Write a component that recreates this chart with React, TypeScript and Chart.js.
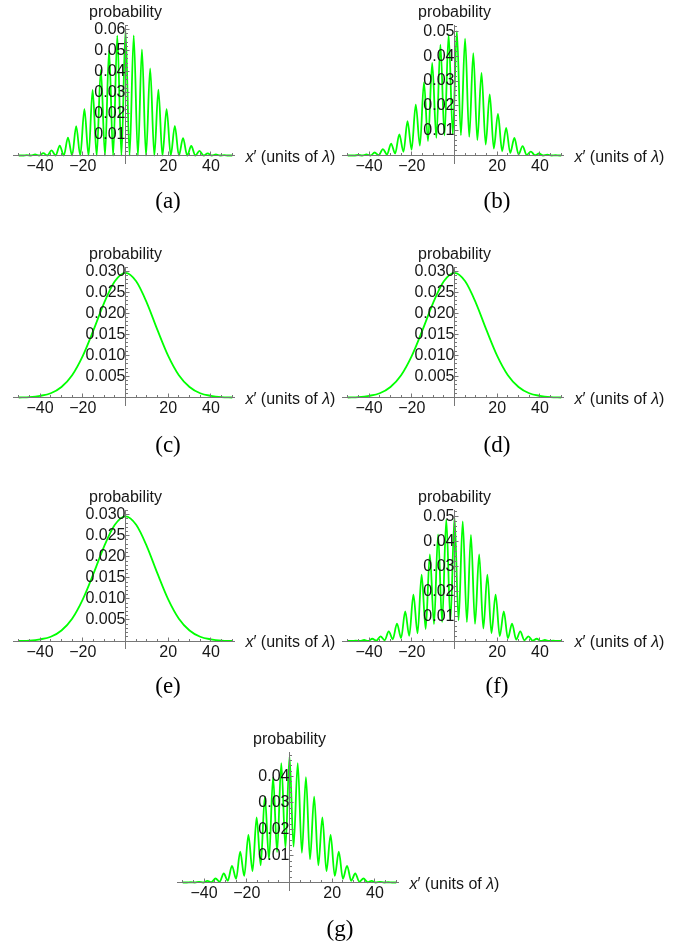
import React, { useEffect, useRef } from 'react';
import { Chart, registerables } from 'chart.js';

Chart.register(...registerables);

// Extrema of the fringe pattern (x′ in units of λ) for panels a, f and g
const fringeX = [
  -50, -48.1, -46.2, -44.3, -42.35, -40.4, -38.5, -36.6, -34.65, -32.7, -30.8, -28.9, -26.95,
  -25.0, -23.1, -21.2, -19.25, -17.3, -15.4, -13.5, -11.55, -9.6, -7.7, -5.8, -3.85, -1.9, 0,
  1.9, 3.85, 5.8, 7.7, 9.6, 11.55, 13.5, 15.4, 17.3, 19.25, 21.2, 23.1, 25.0, 26.95, 28.9, 30.8,
  32.7, 34.65, 36.6, 38.5, 40.4, 42.35, 44.3, 46.2, 48.1, 50,
];

// Panel b has its fringes shifted to the right
const fringeXB = [
  -50, -47.0, -45.1, -43.2, -41.25, -39.3, -37.4, -35.5, -33.55, -31.6, -29.7, -27.8, -25.85,
  -23.9, -22.0, -20.1, -18.15, -16.2, -14.3, -12.4, -10.45, -8.5, -6.6, -4.7, -2.75, -0.8, 1.1,
  3.0, 4.95, 6.9, 8.8, 10.7, 12.65, 14.6, 16.5, 18.4, 20.35, 22.3, 24.2, 26.1, 28.05, 30.0, 31.9,
  33.8, 35.75, 37.7, 39.6, 41.5, 43.45, 45.4, 47.3, 49.2, 50,
];

const probA = [
  0, 0, 0.0002, 0, 0.0005, 0, 0.0011, 0, 0.0024, 0, 0.0047, 0, 0.0085, 0, 0.0140, 0, 0.0220, 0,
  0.0312, 0, 0.0409, 0, 0.0500, 0, 0.0570, 0, 0.0597, 0, 0.0572, 0, 0.0505, 0, 0.0414, 0, 0.0313, 0,
  0.0220, 0, 0.0141, 0, 0.0083, 0, 0.0046, 0, 0.0022, 0, 0.0010, 0, 0.0005, 0, 0.0002, 0, 0,
];

const probB = [
  0, 0, 0.0002, 0, 0.0004, 0, 0.0012, 0.0001, 0.0026, 0.0004, 0.0048, 0.0008, 0.0085, 0.0015,
  0.0138, 0.0024, 0.0205, 0.0040, 0.0295, 0.0058, 0.0373, 0.0071, 0.0447, 0.0081, 0.0487, 0.0085,
  0.0501, 0.0081, 0.0471, 0.0075, 0.0413, 0.0062, 0.0333, 0.0044, 0.0246, 0.0028, 0.0168, 0.0017,
  0.0111, 0.0010, 0.0071, 0.0005, 0.0038, 0.0002, 0.0016, 0.0001, 0.0008, 0, 0.0003, 0, 0.0001, 0, 0,
];

const probF = [
  0, 0, 0.0001, 0, 0.0004, 0, 0.0009, 0.0001, 0.0019, 0.0003, 0.0039, 0.0007, 0.0070, 0.0012,
  0.0119, 0.0021, 0.0187, 0.0031, 0.0267, 0.0048, 0.0349, 0.0068, 0.0430, 0.0076, 0.0490, 0.0083,
  0.0499, 0.0083, 0.0482, 0.0076, 0.0428, 0.0069, 0.0349, 0.0050, 0.0267, 0.0032, 0.0187, 0.0020,
  0.0119, 0.0011, 0.0070, 0.0006, 0.0039, 0.0003, 0.0019, 0.0001, 0.0009, 0, 0.0004, 0, 0.0001, 0, 0,
];

const probG = [
  0, 0, 0.0001, 0, 0.0002, 0, 0.0006, 0.0001, 0.0015, 0.0003, 0.0034, 0.0007, 0.0063, 0.0014,
  0.0116, 0.0025, 0.0179, 0.0043, 0.0245, 0.0065, 0.0324, 0.0088, 0.0397, 0.0115, 0.0450, 0.0130,
  0.0475, 0.0135, 0.0450, 0.0112, 0.0397, 0.0087, 0.0324, 0.0065, 0.0245, 0.0043, 0.0179, 0.0025,
  0.0116, 0.0014, 0.0063, 0.0007, 0.0034, 0.0003, 0.0015, 0.0001, 0.0006, 0, 0.0002, 0, 0.0001, 0, 0,
];

// Smooth (fringe-free) distribution used in panels c, d and e
const smoothX = [-50, -45, -40, -35, -30, -25, -20, -15, -10, -5, 0, 5, 10, 15, 20, 25, 30, 35, 40, 45, 50];
const probSmooth = [
  0, 0.0001, 0.0004, 0.0010, 0.0025, 0.0053, 0.0099, 0.0160, 0.0225, 0.0276, 0.0296,
  0.0276, 0.0225, 0.0160, 0.0099, 0.0053, 0.0025, 0.0010, 0.0004, 0.0001, 0,
];

const xTickStep = 20;
const xMinorStep = 5;
const xTickSpan = [-50, 50];

const AXIS_COLOR = '#777777';
const LABEL_COLOR = '#161616';
const CURVE_COLOR = '#00ff00';
const SANS = "'Liberation Sans', Arial, sans-serif";
const SERIF = "'Liberation Serif', 'Times New Roman', serif";

// Plot geometry (pixels)
const X_MIN = -52.5;
const X_MAX = 51;
const X_PX = 2.135;
const H_ABOVE = 130.5;
const H_BELOW = 7.5;
const CANVAS_W = 250;
const CANVAS_H = 190;

type PanelSpec = {
  caption: string;
  xs: number[];
  ys: number[];
  zeroX: number;
  axisY: number;
  yMax: number;
  yStep: number;
  yDigits: number;
  capX: number;
  capY: number;
};

const panels: PanelSpec[] = [
  { caption: '(a)', xs: fringeX, ys: probA, zeroX: 125.5, axisY: 155.5, yMax: 0.0621, yStep: 0.01, yDigits: 2, capX: 168, capY: 200 },
  { caption: '(b)', xs: fringeXB, ys: probB, zeroX: 454.5, axisY: 155.5, yMax: 0.0526, yStep: 0.01, yDigits: 2, capX: 497, capY: 200 },
  { caption: '(c)', xs: smoothX, ys: probSmooth, zeroX: 125.5, axisY: 397.5, yMax: 0.031, yStep: 0.005, yDigits: 3, capX: 168, capY: 444 },
  { caption: '(d)', xs: smoothX, ys: probSmooth, zeroX: 454.5, axisY: 397.5, yMax: 0.031, yStep: 0.005, yDigits: 3, capX: 497, capY: 444 },
  { caption: '(e)', xs: smoothX, ys: probSmooth, zeroX: 125.5, axisY: 641, yMax: 0.031, yStep: 0.005, yDigits: 3, capX: 168, capY: 685 },
  { caption: '(f)', xs: fringeX, ys: probF, zeroX: 454.5, axisY: 641, yMax: 0.0526, yStep: 0.01, yDigits: 2, capX: 497, capY: 685 },
  { caption: '(g)', xs: fringeX, ys: probG, zeroX: 289.5, axisY: 882.5, yMax: 0.0492, yStep: 0.01, yDigits: 2, capX: 340, capY: 928 },
];

// Small tick marks along both axes (major and minor), drawn from the chart's scales
const axisTicks = {
  id: 'axisTicks',
  afterDraw(chart: any, _args: any, opts: any) {
    const { ctx } = chart;
    const xs = chart.scales.x;
    const ys = chart.scales.y;
    const x0 = Math.floor(xs.getPixelForValue(0)) + 0.5;
    const y0 = Math.floor(ys.getPixelForValue(0)) + 0.5;
    ctx.save();
    ctx.strokeStyle = AXIS_COLOR;
    ctx.lineWidth = 1;
    ctx.beginPath();
    for (let v = xTickSpan[0]; v <= xTickSpan[1]; v += xMinorStep) {
      if (v === 0) continue;
      const px = Math.floor(xs.getPixelForValue(v)) + 0.5;
      const len = v % xTickStep === 0 ? 4 : 2.5;
      ctx.moveTo(px, y0);
      ctx.lineTo(px, y0 - len);
    }
    const minor = opts.yStep / 5;
    for (let i = 1; i * minor <= opts.yMax + 1e-9; i++) {
      const py = Math.floor(ys.getPixelForValue(i * minor)) + 0.5;
      const len = i % 5 === 0 ? 4 : 2.5;
      ctx.moveTo(x0, py);
      ctx.lineTo(x0 + len, py);
    }
    ctx.stroke();
    ctx.restore();
  },
};

function fmtX(v: number) {
  if (v === 0) return '';
  return v < 0 ? '\u2212' + Math.abs(v) : String(v);
}

function ProbabilityPanel({ spec }: { spec: PanelSpec }) {
  const canvasRef = useRef<HTMLCanvasElement | null>(null);
  const canvasLeft = Math.floor(spec.zeroX) - 125;
  const canvasTop = Math.floor(spec.axisY) - 150;

  useEffect(() => {
    const canvas = canvasRef.current;
    if (!canvas) return;
    const zx = spec.zeroX - canvasLeft;
    const ay = spec.axisY - canvasTop;
    const chartLeft = zx + X_MIN * X_PX;
    const chartRight = zx + X_MAX * X_PX;
    const chartTop = ay - H_ABOVE;
    const chartBottom = ay + H_BELOW;
    const yMin = -spec.yMax * (H_BELOW / H_ABOVE);

    const chart = new Chart(canvas, {
      type: 'line',
      data: {
        datasets: [
          {
            data: spec.xs.map((x, i) => ({ x, y: spec.ys[i] })),
            borderColor: CURVE_COLOR,
            borderWidth: 1.8,
            pointRadius: 0,
            fill: false,
            cubicInterpolationMode: 'monotone',
          },
        ],
      },
      options: {
        responsive: false,
        animation: false,
        devicePixelRatio: 1,
        events: [],
        layout: {
          padding: {
            left: chartLeft,
            right: CANVAS_W - chartRight,
            top: chartTop,
            bottom: CANVAS_H - chartBottom,
          },
        },
        plugins: {
          legend: { display: false },
          tooltip: { enabled: false },
          axisTicks: { yStep: spec.yStep, yMax: spec.yMax },
        } as any,
        scales: {
          x: {
            type: 'linear',
            min: X_MIN,
            max: X_MAX,
            position: { y: 0 } as any,
            grid: { display: false, drawTicks: false },
            border: { display: true, color: AXIS_COLOR, width: 1, z: 1 } as any,
            ticks: {
              z: 1,
              stepSize: xTickStep,
              includeBounds: false,
              autoSkip: false,
              maxRotation: 0,
              padding: 1.5,
              color: LABEL_COLOR,
              font: { family: SANS, size: 16 },
              callback: (v: any) => fmtX(Number(v)),
            } as any,
          },
          y: {
            type: 'linear',
            min: yMin,
            max: spec.yMax,
            position: { x: 0 } as any,
            grid: { display: false, drawTicks: false },
            border: { display: true, color: AXIS_COLOR, width: 1, z: 1 } as any,
            ticks: {
              z: 1,
              stepSize: spec.yStep,
              includeBounds: false,
              autoSkip: false,
              padding: 3.5,
              color: LABEL_COLOR,
              font: { family: SANS, size: 16 },
              callback: (v: any) => {
                const n = Number(v);
                return Math.abs(n) < 1e-9 ? '' : n.toFixed(spec.yDigits);
              },
            } as any,
          },
        },
      },
      plugins: [axisTicks],
    });
    return () => chart.destroy();
  }, [spec, canvasLeft, canvasTop]);

  const textBase: React.CSSProperties = {
    position: 'absolute',
    whiteSpace: 'nowrap',
    lineHeight: 1,
    color: LABEL_COLOR,
  };

  return (
    <>
      <canvas
        ref={canvasRef}
        width={CANVAS_W}
        height={CANVAS_H}
        style={{ position: 'absolute', left: canvasLeft, top: canvasTop, width: CANVAS_W, height: CANVAS_H }}
      />
      <div
        style={{
          ...textBase,
          left: spec.zeroX,
          top: spec.axisY - H_ABOVE - 13.5,
          transform: 'translate(-50%, -50%)',
          fontFamily: SANS,
          fontSize: 16,
        }}
      >
        probability
      </div>
      <div
        style={{
          ...textBase,
          left: spec.zeroX + X_MAX * X_PX + 11,
          top: spec.axisY + 1,
          transform: 'translateY(-50%)',
          fontFamily: SANS,
          fontSize: 16,
        }}
      >
        <i>x</i>′ (units of <i>λ</i>)
      </div>
      <div
        style={{
          ...textBase,
          left: spec.capX,
          top: spec.capY,
          transform: 'translate(-50%, -50%)',
          fontFamily: SERIF,
          fontSize: 23,
          color: '#000',
        }}
      >
        {spec.caption}
      </div>
    </>
  );
}

export default function App() {
  return (
    <div
      style={{
        position: 'absolute',
        left: 0,
        top: 0,
        width: 690,
        height: 943,
        background: '#ffffff',
        overflow: 'hidden',
      }}
    >
      {panels.map((p) => (
        <ProbabilityPanel key={p.caption} spec={p} />
      ))}
    </div>
  );
}
